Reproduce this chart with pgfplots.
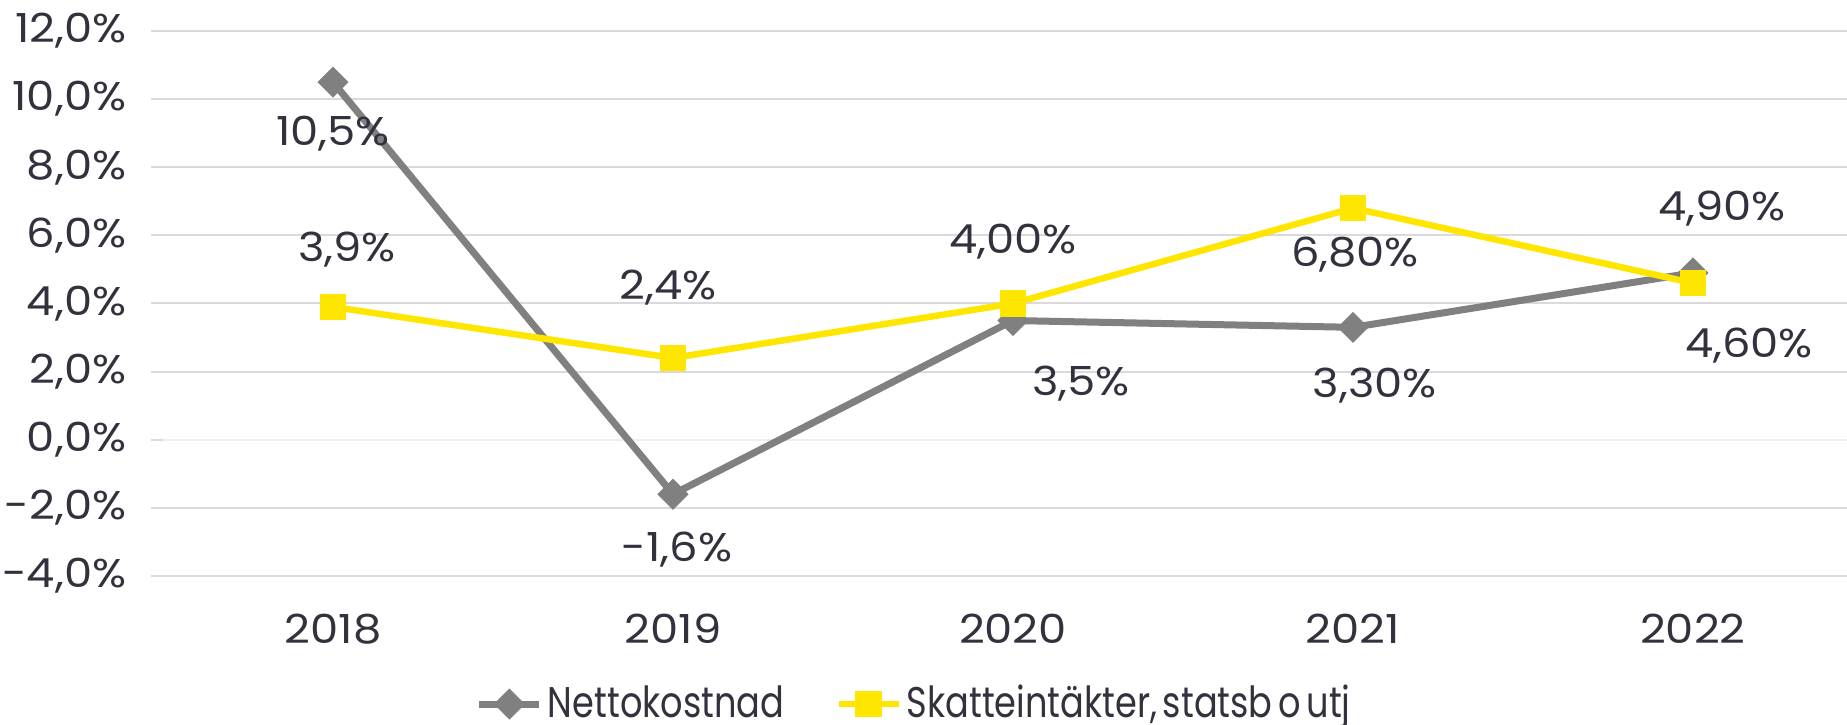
\documentclass[border=0pt]{standalone}
\usepackage{fontspec}
\setmainfont{Poppins}
\newfontfamily\legfont{Poppins}[FakeStretch=0.82, WordSpace=0.6]
\newfontfamily\numfont{Poppins}[FakeStretch=1.12]
\usepackage{pgfplots}
\usepackage{pgfplotstable}
\pgfplotsset{compat=1.18}
\definecolor{txt}{RGB}{50,50,62}
\definecolor{gridc}{RGB}{217,217,222}
\definecolor{zeroc}{RGB}{238,238,240}
\definecolor{netc}{RGB}{128,128,128}
\definecolor{skc}{RGB}{255,230,0}

\pgfplotstableread{
x y dx dy lab
0 10.5 0 -5.2 10,5
1 -1.6 0.4 -5.5 -1,6
2 3.5 6.8 -6.3 3,5
3 3.3 2.2 -5.8 3,30
4 4.9 2.9 6.4 4,90
}\net

\pgfplotstableread{
x y dx dy lab
0 3.9 1.4 5.7 3,9
1 2.4 -0.5 7.0 2,4
2 4.0 0 6.2 4,00
3 6.8 0.2 -4.6 6,80
4 4.6 5.6 -6.3 4,60
}\ska

\begin{document}
\begin{tikzpicture}
\path[use as bounding box] (-16.3mm,-14.9mm) rectangle (168.4mm,57.6mm);
\begin{axis}[
 at={(0,0)}, anchor=south west, scale only axis,
 width=168.4mm, height=54.5mm,
 xmin=-0.5, xmax=4.453, ymin=-4, ymax=12,
 xtick={0,1,2,3,4}, xticklabels={2018,2019,2020,2021,2022},
 ytick={-4,-2,2,4,6,8,10,12},
 extra y ticks={0}, extra y tick labels={0{,}0\%},
 extra y tick style={grid style={zeroc, line width=0.2mm}},
 ymajorgrids, grid style={gridc, line width=0.2mm},
 axis line style={draw=none},
 xtick style={draw=none},
 ytick style={gridc, line width=0.2mm},
 tick align=outside, major tick length=1.2mm, ytick pos=left, xtick pos=bottom,
 /pgf/number format/assume math mode=true,
 yticklabel={\pgfmathprintnumber[fixed,fixed zerofill,precision=1,use comma]{\tick}\%},
 tick label style={font=\numfont\fontsize{11.4}{13}\selectfont, text=txt},
 yticklabel style={anchor=east, inner sep=0pt, xshift=-2.4mm},
 xticklabel style={anchor=center, inner sep=0pt, yshift=-4.1mm},
 legend style={at={(0.447,-0.235)}, anchor=center, draw=none, fill=none,
   font=\legfont\fontsize{12.2}{14}\selectfont, text=txt,
   /tikz/every even column/.append style={column sep=4.6mm},
   nodes={inner xsep=0.5mm}},
 legend columns=2, legend cell align=left,
 point meta=explicit symbolic,
 nodes near coords={\pgfplotspointmeta\%},
 visualization depends on={\thisrow{dx}\as\dx},
 visualization depends on={\thisrow{dy}\as\dy},
 every node near coord/.append style={anchor=center, xshift=\dx mm, yshift=\dy mm,
   font=\numfont\fontsize{11.4}{13}\selectfont, text=txt, inner sep=0pt},
]
\addplot[netc, line width=0.7mm, mark=square*, mark size=0.75mm,
  mark options={rotate=45, solid, fill=netc}]
  table[x=x,y=y,meta=lab]{\net};
\addlegendentry{Nettokostnad}
\addplot[skc, line width=0.65mm, mark=square*, mark size=1.0mm,
  mark options={solid, fill=skc}]
  table[x=x,y=y,meta=lab]{\ska};
\addlegendentry{Skatteintäkter, statsb o utj}
\end{axis}
\end{tikzpicture}
\end{document}
